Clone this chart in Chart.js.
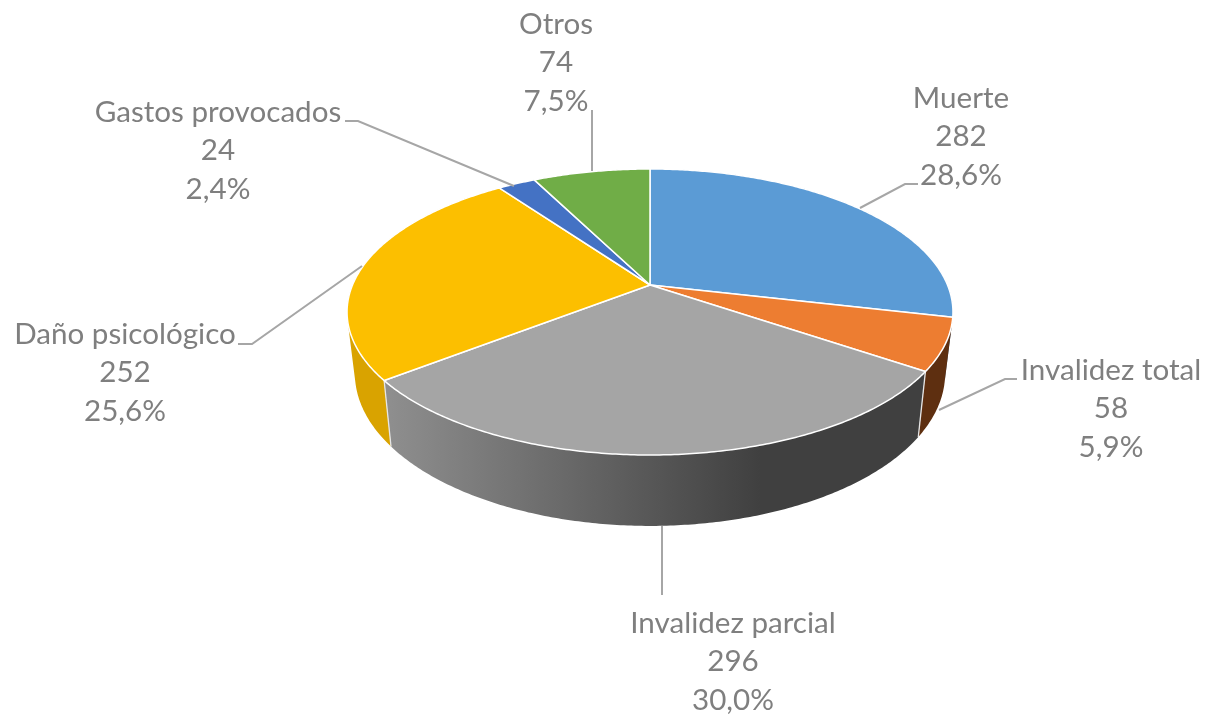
<!DOCTYPE html>
<html><head><meta charset="utf-8">
<style>html,body{margin:0;padding:0;background:#fff}canvas{display:block}</style>
<script src="https://cdn.jsdelivr.net/npm/chart.js@4"></script></head>
<body><canvas id="c" width="1206" height="714"></canvas>
<script>
const categories = ["Muerte","Invalidez total","Invalidez parcial","Daño psicológico","Gastos provocados","Otros"];
const values = [282,58,296,252,24,74];
const percentLabels = ["28,6%","5,9%","30,0%","25,6%","2,4%","7,5%"];
const topColors = ["#5b9bd5","#ed7d31","#a5a5a5","#fcbf00","#4472c4","#70ad47"];
const wallColors = ["#3d6f9e","#5e2f10","gray","#d9a300","#2f5597","#4e7a32"];

// layout of the tilted disc (perspective projection of the library's arc angles)
const TOP = {x0:650,y0:285,A:297.5,B:137.9,q:0.1888};
const BOTTOM = {x0:650,y0:344.7,A:289.8,B:147,q:0.1888};
const labelLayout = [
  {cx:961,cy:98,line:[[860,208],[905,184],[918,184]]},
  {cx:1111,cy:370,line:[[939,410],[1005,379],[1017,379]]},
  {cx:733,cy:623,line:[[662,526],[662,595]]},
  {cx:125,cy:334,line:[[362,266],[252,344],[238,344]]},
  {cx:218,cy:112,line:[[345,121],[358,121],[514,186]]},
  {cx:556,cy:24,line:[[592,110],[592,171]]}
];
const lineStep = 38.8;

function project(p,theta){
  const X=Math.sin(theta),Y=-Math.cos(theta),w=1-p.q*Y;
  return [p.x0+p.A*X/w,p.y0+p.B*Y/w];
}
function arcPts(p,a,b){
  const n=Math.max(2,Math.ceil(Math.abs(b-a)/0.01)),pts=[];
  for(let i=0;i<=n;i++)pts.push(project(p,a+(b-a)*i/n));
  return pts;
}
function trace(ctx,pts){
  ctx.beginPath();
  pts.forEach((q,i)=>i?ctx.lineTo(q[0],q[1]):ctx.moveTo(q[0],q[1]));
  ctx.closePath();
}
const tiltedPie = {
  id:'tiltedPie',
  beforeDatasetDraw(chart,args){
    const ctx=chart.ctx, arcs=chart.getDatasetMeta(args.index).data;
    const ang=arcs.map(a=>[a.startAngle+Math.PI/2,a.endAngle+Math.PI/2]);
    ctx.save();
    ctx.lineJoin='round';
    // side walls: swept between the upper and the lower rim
    ang.forEach(([a,b],i)=>{
      const up=arcPts(TOP,a,b),lo=arcPts(BOTTOM,a,b);
      ctx.beginPath();
      for(let k=0;k<up.length-1;k++){
        // one consistently wound quad per step
        let q=[up[k],up[k+1],lo[k+1],lo[k]];
        const area=q.reduce((s,p,j)=>{const r=q[(j+1)%4];return s+p[0]*r[1]-r[0]*p[1];},0);
        if(area<0)q=q.reverse();
        q.forEach((p,j)=>j?ctx.lineTo(p[0],p[1]):ctx.moveTo(p[0],p[1]));
        ctx.closePath();
      }
      if(wallColors[i]==='gray'){
        const g=ctx.createLinearGradient(390,0,760,0);
        g.addColorStop(0,'#8e8e8e');g.addColorStop(1,'#404040');
        ctx.fillStyle=g;
      } else ctx.fillStyle=wallColors[i];
      ctx.fill('nonzero');
    });
    // separators on the front wall
    ctx.strokeStyle='#e6e6e6';ctx.lineWidth=1.3;
    [ang[1][1],ang[2][1]].forEach(t=>{
      const p=project(TOP,t),q=project(BOTTOM,t);
      ctx.beginPath();ctx.moveTo(p[0],p[1]);ctx.lineTo(q[0],q[1]);ctx.stroke();
    });
    // top faces
    ang.forEach(([a,b],i)=>{
      const pts=[[TOP.x0,TOP.y0]].concat(arcPts(TOP,a,b));
      trace(ctx,pts);
      ctx.fillStyle=topColors[i];ctx.fill();
      ctx.strokeStyle='#ffffff';ctx.lineWidth=1.5;ctx.stroke();
    });
    ctx.restore();
    return false;
  },
  afterDraw(chart){
    const ctx=chart.ctx;
    ctx.save();
    ctx.strokeStyle='#a6a6a6';ctx.lineWidth=2;
    labelLayout.forEach(l=>{
      ctx.beginPath();
      l.line.forEach((q,i)=>i?ctx.lineTo(q[0],q[1]):ctx.moveTo(q[0],q[1]));
      ctx.stroke();
    });
    ctx.fillStyle='#7f7f7f';
    ctx.font='29.6px Lato, "Open Sans", sans-serif';
    ctx.textAlign='center';ctx.textBaseline='middle';
    categories.forEach((c,i)=>{
      const l=labelLayout[i];
      [c,String(values[i]),percentLabels[i]].forEach((t,k)=>ctx.fillText(t,l.cx,l.cy+k*lineStep));
    });
    ctx.restore();
  }
};
new Chart(document.getElementById('c'),{
  type:'pie',
  data:{labels:categories,datasets:[{data:values,backgroundColor:topColors,borderColor:'#fff'}]},
  options:{responsive:false,animation:false,events:[],
    plugins:{legend:{display:false},tooltip:{enabled:false}}},
  plugins:[tiltedPie]
});
</script></body></html>
